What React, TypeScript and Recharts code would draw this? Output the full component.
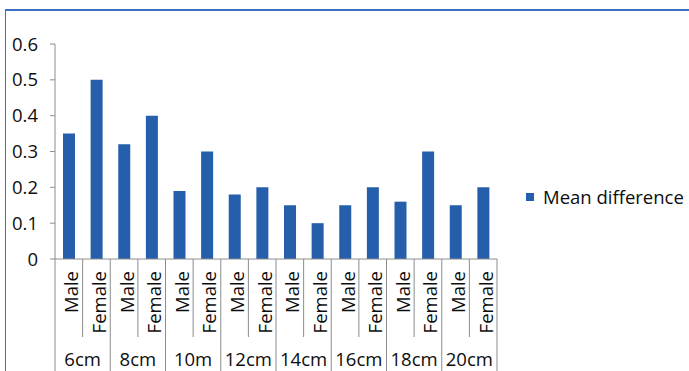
import { BarChart, Bar, XAxis, YAxis, Legend } from "recharts";

const groups = ["6cm", "8cm", "10m", "12cm", "14cm", "16cm", "18cm", "20cm"];
const sexes = ["Male", "Female"];
const maleValues = [0.35, 0.32, 0.19, 0.18, 0.15, 0.15, 0.16, 0.15];
const femaleValues = [0.5, 0.4, 0.3, 0.2, 0.1, 0.2, 0.3, 0.2];
const yTicks = [0, 0.1, 0.2, 0.3, 0.4, 0.5, 0.6];

const seriesName = "Mean difference";

const rows = groups.flatMap((group, i) =>
  sexes.map((sex) => ({
    key: `${group}|${sex}`,
    group,
    sex,
    value: sex === "Male" ? maleValues[i] : femaleValues[i],
  }))
);

const W = 689;
const H = 371;
const margin = { top: 44, right: 192, bottom: 0, left: 5 };
const yAxisWidth = 50;
const plotWidth = W - margin.left - margin.right - yAxisWidth;
const band = plotWidth / rows.length;
const sexAxisHeight = 80;
const groupAxisHeight = H - margin.top - 215 - sexAxisHeight;

const FONT = "'Open Sans', Lato, sans-serif";
const FS = 18.5;
const BLUE = "#255EAB";
const GRID = "#8C8C8C";
const INK = "#0d0d0d";

// rotated Male/Female label plus the separator lines of the two-level axis
const SexTick = (props: any) => {
  const { x, y, payload, index } = props;
  const sex = String(payload.value).split("|")[1];
  const left = x - band / 2;
  const right = x + band / 2;
  const isFirstOfGroup = sex === sexes[0];
  const isLast = index === rows.length - 1;
  const full = H - y;
  return (
    <g>
      <line
        x1={left}
        x2={left}
        y1={y}
        y2={isFirstOfGroup ? y + full : y + 78}
        stroke={GRID}
        strokeWidth={1}
      />
      {isLast && <line x1={right} x2={right} y1={y} y2={y + full} stroke={GRID} strokeWidth={1} />}
      <g transform={`translate(${x + 2},${y + 12}) rotate(-90)`}>
        <text textAnchor="end" dominantBaseline="central" fontSize={FS} fill={INK} fontFamily={FONT}>
          {sex}
        </text>
      </g>
    </g>
  );
};

const GroupTick = (props: any) => {
  const { x, payload } = props;
  return (
    <text x={x} y={H - 5} textAnchor="middle" fontSize={FS} fill={INK} fontFamily={FONT}>
      {payload.value}
    </text>
  );
};

const LegendContent = () => (
  <div style={{ display: "flex", alignItems: "center", fontFamily: FONT, fontSize: FS, color: INK }}>
    <span style={{ width: 8, height: 8, background: BLUE, display: "inline-block", marginRight: 9 }} />
    <span>{seriesName}</span>
  </div>
);

export default function App() {
  return (
    <div style={{ position: "absolute", left: 0, top: 0, width: W, height: H, background: "#fff", overflow: "hidden" }}>
      <div
        style={{
          position: "absolute",
          left: 5,
          top: 9,
          right: -2,
          bottom: -2,
          borderTop: "2px solid #3F6FC2",
          borderLeft: "1px solid #3F6FC2",
        }}
      />
      <BarChart width={W} height={H} data={rows} margin={margin} barSize={12}>
        <YAxis
          width={yAxisWidth}
          domain={[0, 0.6]}
          ticks={yTicks}
          interval={0}
          tickSize={5}
          tickMargin={12}
          axisLine={{ stroke: GRID }}
          tickLine={{ stroke: GRID }}
          tick={{ fontSize: FS, fill: INK, fontFamily: FONT }}
        />
        <XAxis
          xAxisId={0}
          dataKey="key"
          interval={0}
          height={sexAxisHeight}
          tickSize={0}
          tickMargin={0}
          tickLine={false}
          axisLine={{ stroke: GRID }}
          tick={<SexTick />}
        />
        <XAxis
          xAxisId={1}
          dataKey="group"
          allowDuplicatedCategory={false}
          interval={0}
          height={groupAxisHeight}
          tickLine={false}
          axisLine={false}
          tick={<GroupTick />}
        />
        <Legend
          layout="horizontal"
          verticalAlign="middle"
          align="center"
          wrapperStyle={{ left: 526, top: 184, width: 170 }}
          content={<LegendContent />}
        />
        <Bar xAxisId={0} dataKey="value" name={seriesName} fill={BLUE} isAnimationActive={false} />
      </BarChart>
    </div>
  );
}
